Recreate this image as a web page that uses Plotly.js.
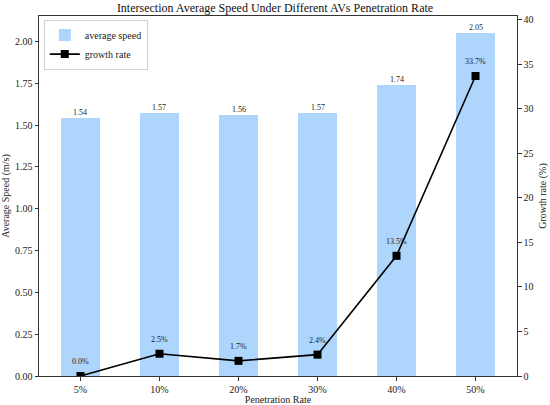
<!DOCTYPE html>
<html><head><meta charset="utf-8">
<script src="https://cdn.plot.ly/plotly-3.0.1.min.js"></script>
<style>html,body{margin:0;padding:0;background:#fff}</style>
</head><body>
<div id="chart" style="width:550px;height:405px"></div>
<script>
const categories = ["5%", "10%", "20%", "30%", "40%", "50%"];
const avgSpeed = [1.54, 1.57, 1.56, 1.57, 1.74, 2.05];
const growthRate = [0.0, 2.5, 1.7, 2.4, 13.5, 33.7];
const speedLabels = ["1.54", "1.57", "1.56", "1.57", "1.74", "2.05"];
const growthLabels = ["0.0%", "2.5%", "1.7%", "2.4%", "13.5%", "33.7%"];

const FONT = "Liberation Serif, Times New Roman, serif";

const traces = [
  {
    type: "bar", x: categories, y: avgSpeed, name: "average speed",
    width: 0.5, marker: {color: "#aed5fc", line: {width: 0}},
    yaxis: "y"
  },
  {
    type: "scatter", mode: "lines+markers", x: categories, y: growthRate,
    name: "growth rate", yaxis: "y2",
    line: {color: "#000", width: 1.6},
    marker: {symbol: "square", size: 8, color: "#000"}
  }
];

const annotations = [];
categories.forEach((c, i) => {
  annotations.push({x: c, y: avgSpeed[i], xref: "x", yref: "y", text: speedLabels[i],
    showarrow: false, yanchor: "bottom", yshift: -1, font: {family: FONT, size: 8, color: "#222"}});
  annotations.push({x: c, y: growthRate[i] + 1, xref: "x", yref: "y2", text: growthLabels[i],
    showarrow: false, yanchor: "bottom", yshift: -1, font: {family: FONT, size: 8, color: "#222"}});
});

const axisCommon = {
  showline: true, linecolor: "#333", linewidth: 1, ticks: "outside", ticklen: 3.5,
  tickcolor: "#333", showgrid: false, zeroline: false,
  tickfont: {family: FONT, size: 10, color: "#222"}
};

const layout = {
  width: 550, height: 405,
  margin: {l: 39, r: 33, t: 16, b: 29},
  paper_bgcolor: "#fff", plot_bgcolor: "#fff",
  font: {family: FONT, color: "#222"},
  title: {text: "Intersection Average Speed Under Different AVs Penetration Rate",
    font: {family: FONT, size: 12, color: "#111"}, x: 0.5, xanchor: "center", y: 0.992, yanchor: "top"},
  xaxis: Object.assign({}, axisCommon, {
    type: "category", range: [-0.525, 5.525], mirror: true,
    title: {text: "Penetration Rate", font: {family: FONT, size: 10, color: "#222"}, standoff: 4}
  }),
  yaxis: Object.assign({}, axisCommon, {
    range: [0, 2.1525], dtick: 0.25, tickformat: ".2f",
    title: {text: "Average Speed (m/s)", font: {family: FONT, size: 10, color: "#222"}, standoff: 8}
  }),
  yaxis2: Object.assign({}, axisCommon, {
    overlaying: "y", side: "right", range: [0, 40.44], dtick: 5,
    title: {text: "Growth rate (%)", font: {family: FONT, size: 10, color: "#222"}, standoff: 6}
  }),
  showlegend: true,
  legend: {x: 0.01, y: 0.99, xanchor: "left", yanchor: "top",
    bgcolor: "rgba(255,255,255,0.8)", bordercolor: "#d0d0d0", borderwidth: 1,
    font: {family: FONT, size: 10, color: "#222"}, tracegroupgap: 0, itemwidth: 30},
  annotations: annotations,
  bargap: 0
};

Plotly.newPlot("chart", traces, layout, {displayModeBar: false, staticPlot: true});
</script>
</body></html>
